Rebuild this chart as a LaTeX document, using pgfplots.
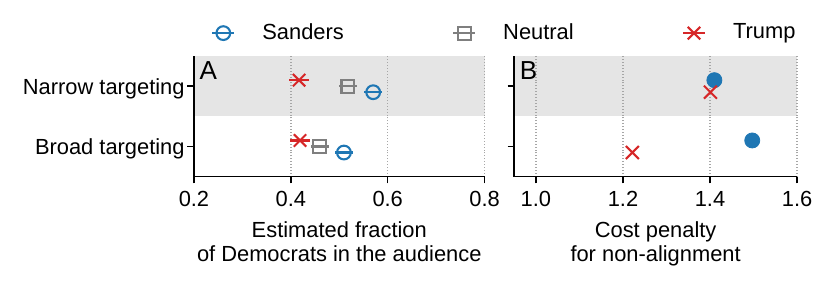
\documentclass[border=0pt]{standalone}
\usepackage{pgfplots}
\pgfplotsset{compat=1.18}
\usepackage{fontspec}
\setmainfont{Liberation Sans}
\definecolor{sblue}{HTML}{1F77B4}
\definecolor{ngray}{HTML}{7F7F7F}
\definecolor{tred}{HTML}{D62728}
\definecolor{band}{HTML}{E5E5E5}
\begin{document}
\fontsize{10.5}{12.5}\selectfont
\begin{tikzpicture}
\pgfplotsset{
  common/.style={
    set layers,
    scale only axis,
    height=57.9pt,
    ymin=-0.5, ymax=1.5,
    ytick={0,1},
    axis x line*=bottom, axis y line*=left,
    axis line style={line width=0.7pt, black},
    tick style={line width=0.7pt, black},
    major tick length=3.2pt,
    tick align=outside,
    xmajorgrids,
    major grid style={densely dotted, line width=0.7pt, black!35},
    /pgf/number format/assume math mode=true,
    xticklabel style={/pgf/number format/fixed, /pgf/number format/fixed zerofill, /pgf/number format/precision=1},
    yticklabel style={xshift=2.4pt, yshift=-1.1pt},
    xlabel style={align=center, font=\fontsize{10.5}{11.8}\selectfont},
    ticklabel style={font=\fontsize{10.5}{12.5}\selectfont},
    clip=false,
  }
}
\begin{axis}[common, name=A, at={(0,0)}, anchor=south west,
  width=139.5pt,
  xmin=0.2, xmax=0.8, xtick={0.2,0.4,0.6,0.8},
  yticklabels={Broad targeting, Narrow targeting},
  xlabel={Estimated fraction\\of Democrats in the audience},
  legend columns=3,
  legend style={at={(1.072,1.19)}, anchor=center, draw=none, fill=none,
    font=\fontsize{10.5}{12.5}\selectfont,
    /tikz/every odd column/.append style={column sep=11pt},
    /tikz/every even column/.append style={column sep=50pt}},
]
\begin{pgfonlayer}{axis background}
\fill[band] (axis cs:0.2,0.5) rectangle (axis cs:0.8,1.5);
\end{pgfonlayer}
\addlegendimage{legend image code/.code={
  \draw[sblue, line width=1pt] (0pt,0pt) -- (10.5pt,0pt);
  \draw[sblue, line width=1pt] (5.25pt,0pt) circle (3.3pt);}}
\addlegendentry{Sanders}
\addlegendimage{legend image code/.code={
  \draw[ngray, line width=1pt] (0pt,0pt) -- (10.5pt,0pt);
  \draw[ngray, line width=1pt] (2.15pt,-3.1pt) rectangle (8.35pt,3.1pt);}}
\addlegendentry{Neutral}
\addlegendimage{legend image code/.code={
  \draw[tred, line width=1pt] (0pt,0pt) -- (10.5pt,0pt);
  \draw[tred, line width=1pt] (2.25pt,-3pt) -- (8.25pt,3pt) (2.25pt,3pt) -- (8.25pt,-3pt);}}
\addlegendentry{Trump}
% Sanders
\addplot[only marks, mark=o, mark size=3.3pt, sblue, line width=1pt,
  error bars/.cd, x dir=both, x explicit, error bar style={line width=1pt, sblue}, error mark=none]
  coordinates {(0.570,0.9) +- (0.018,0) (0.5096,-0.1) +- (0.018,0)};
% Neutral
\addplot[only marks, mark=square, mark size=3.1pt, ngray, line width=1pt,
  error bars/.cd, x dir=both, x explicit, error bar style={line width=1pt, ngray}, error mark=none]
  coordinates {(0.518,1.0) +- (0.018,0) (0.460,0.0) +- (0.018,0)};
% Trump
\addplot[only marks, mark=x, mark size=4.2pt, tred, line width=1pt,
  error bars/.cd, x dir=both, x explicit, error bar style={line width=1pt, tred}, error mark=none]
  coordinates {(0.417,1.1) +- (0.02,0) (0.419,0.1) +- (0.02,0)};
\node[anchor=north west, inner sep=2.5pt, font=\fontsize{12.5}{14}\selectfont] at (rel axis cs:0,1) {A};
\end{axis}
\begin{axis}[common, name=B, at={(153.7pt,0)}, anchor=south west,
  width=135.8pt,
  xmin=0.95, xmax=1.6, xtick={1.0,1.2,1.4,1.6},
  yticklabels={,},
  xlabel={Cost penalty\\for non-alignment},
]
\begin{pgfonlayer}{axis background}
\fill[band] (axis cs:0.95,0.5) rectangle (axis cs:1.6,1.5);
\end{pgfonlayer}
\addplot[only marks, mark=*, mark size=3.6pt, sblue, draw=sblue, fill=sblue]
  coordinates {(1.410,1.1) (1.497,0.1)};
\addplot[only marks, mark=x, mark size=4.4pt, tred, line width=1pt]
  coordinates {(1.401,0.9) (1.2216,-0.1)};
\node[anchor=north west, inner sep=2.5pt, font=\fontsize{12.5}{14}\selectfont] at (rel axis cs:0,1) {B};
\end{axis}
\pgfresetboundingbox
\useasboundingbox (-93.1pt,-51.0pt) rectangle (305.3pt,84.8pt);
\end{tikzpicture}
\end{document}
